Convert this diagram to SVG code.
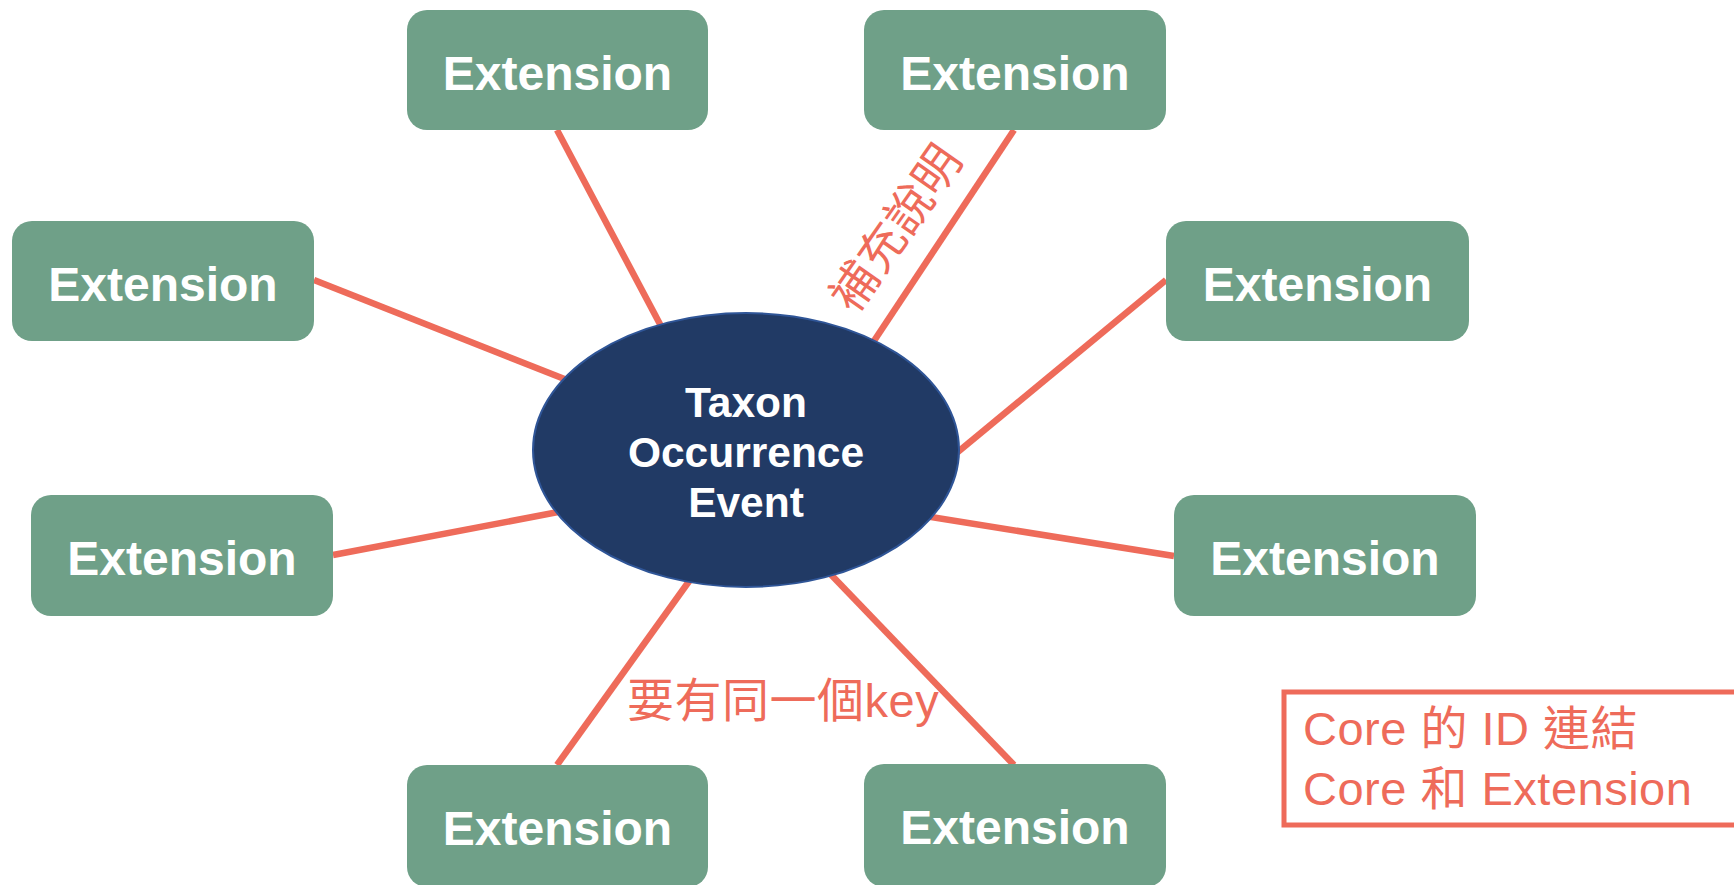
<svg xmlns="http://www.w3.org/2000/svg" width="1734" height="885" viewBox="0 0 1734 885">
<style>
.ext rect{fill:#6FA088;}
.ext text{font-family:"Liberation Sans",Arial,sans-serif;font-weight:bold;font-size:48px;fill:#ffffff;text-anchor:middle;}
.conn line{stroke:#EE6B5A;stroke-width:6.5;}
.note{font-family:"Liberation Sans","Noto Sans CJK TC",sans-serif;font-size:47px;letter-spacing:0.5px;fill:#EE6B5A;}
.core text{font-family:"Liberation Sans",Arial,sans-serif;font-weight:bold;font-size:42.5px;fill:#ffffff;text-anchor:middle;}
</style>
<rect width="1734" height="885" fill="#ffffff"/>
<g id="connectors" class="conn">
<line x1="557" y1="130" x2="670" y2="343"/>
<line x1="1014" y1="130" x2="860" y2="362"/>
<line x1="314" y1="280" x2="600" y2="393"/>
<line x1="1166" y1="280" x2="930" y2="475"/>
<line x1="333" y1="555" x2="600" y2="504"/>
<line x1="1174" y1="556" x2="900" y2="512"/>
<line x1="557" y1="765" x2="700" y2="566"/>
<line x1="1014" y1="765" x2="815" y2="558"/>
</g>
<g id="ext1" class="ext"><rect x="407" y="10" width="301" height="120" rx="20"/><text x="557.5" y="90">Extension</text></g>
<g id="ext2" class="ext"><rect x="864" y="10" width="302" height="120" rx="20"/><text x="1015" y="90">Extension</text></g>
<g id="ext3" class="ext"><rect x="12" y="221" width="302" height="120" rx="20"/><text x="163" y="301">Extension</text></g>
<g id="ext4" class="ext"><rect x="1166" y="221" width="303" height="120" rx="20"/><text x="1317.5" y="301">Extension</text></g>
<g id="ext5" class="ext"><rect x="31" y="495" width="302" height="121" rx="20"/><text x="182" y="575">Extension</text></g>
<g id="ext6" class="ext"><rect x="1174" y="495" width="302" height="121" rx="20"/><text x="1325" y="575">Extension</text></g>
<g id="ext7" class="ext"><rect x="407" y="765" width="301" height="122" rx="20"/><text x="557.5" y="845">Extension</text></g>
<g id="ext8" class="ext"><rect x="864" y="764" width="302" height="123" rx="20"/><text x="1015" y="844">Extension</text></g>
<g id="core" class="core">
<ellipse cx="746" cy="450" rx="213" ry="137" fill="#213A65" stroke="#2F5597" stroke-width="2"/>
<text x="746" y="417">Taxon</text>
<text x="746" y="467">Occurrence</text>
<text x="746" y="517">Event</text>
</g>
<g id="label-supplement">
<text class="note" x="896" y="228" text-anchor="middle" dominant-baseline="central" transform="rotate(-55 896 228)">補充說明</text>
</g>
<g id="label-key">
<text class="note" x="627" y="717">要有同一個key</text>
</g>
<g id="legend">
<rect x="1284" y="692" width="480" height="133" fill="#ffffff" stroke="#EE6B5A" stroke-width="5"/>
<text class="note" x="1303" y="745">Core 的 ID 連結</text>
<text class="note" x="1303" y="805">Core 和 Extension</text>
</g>
</svg>
